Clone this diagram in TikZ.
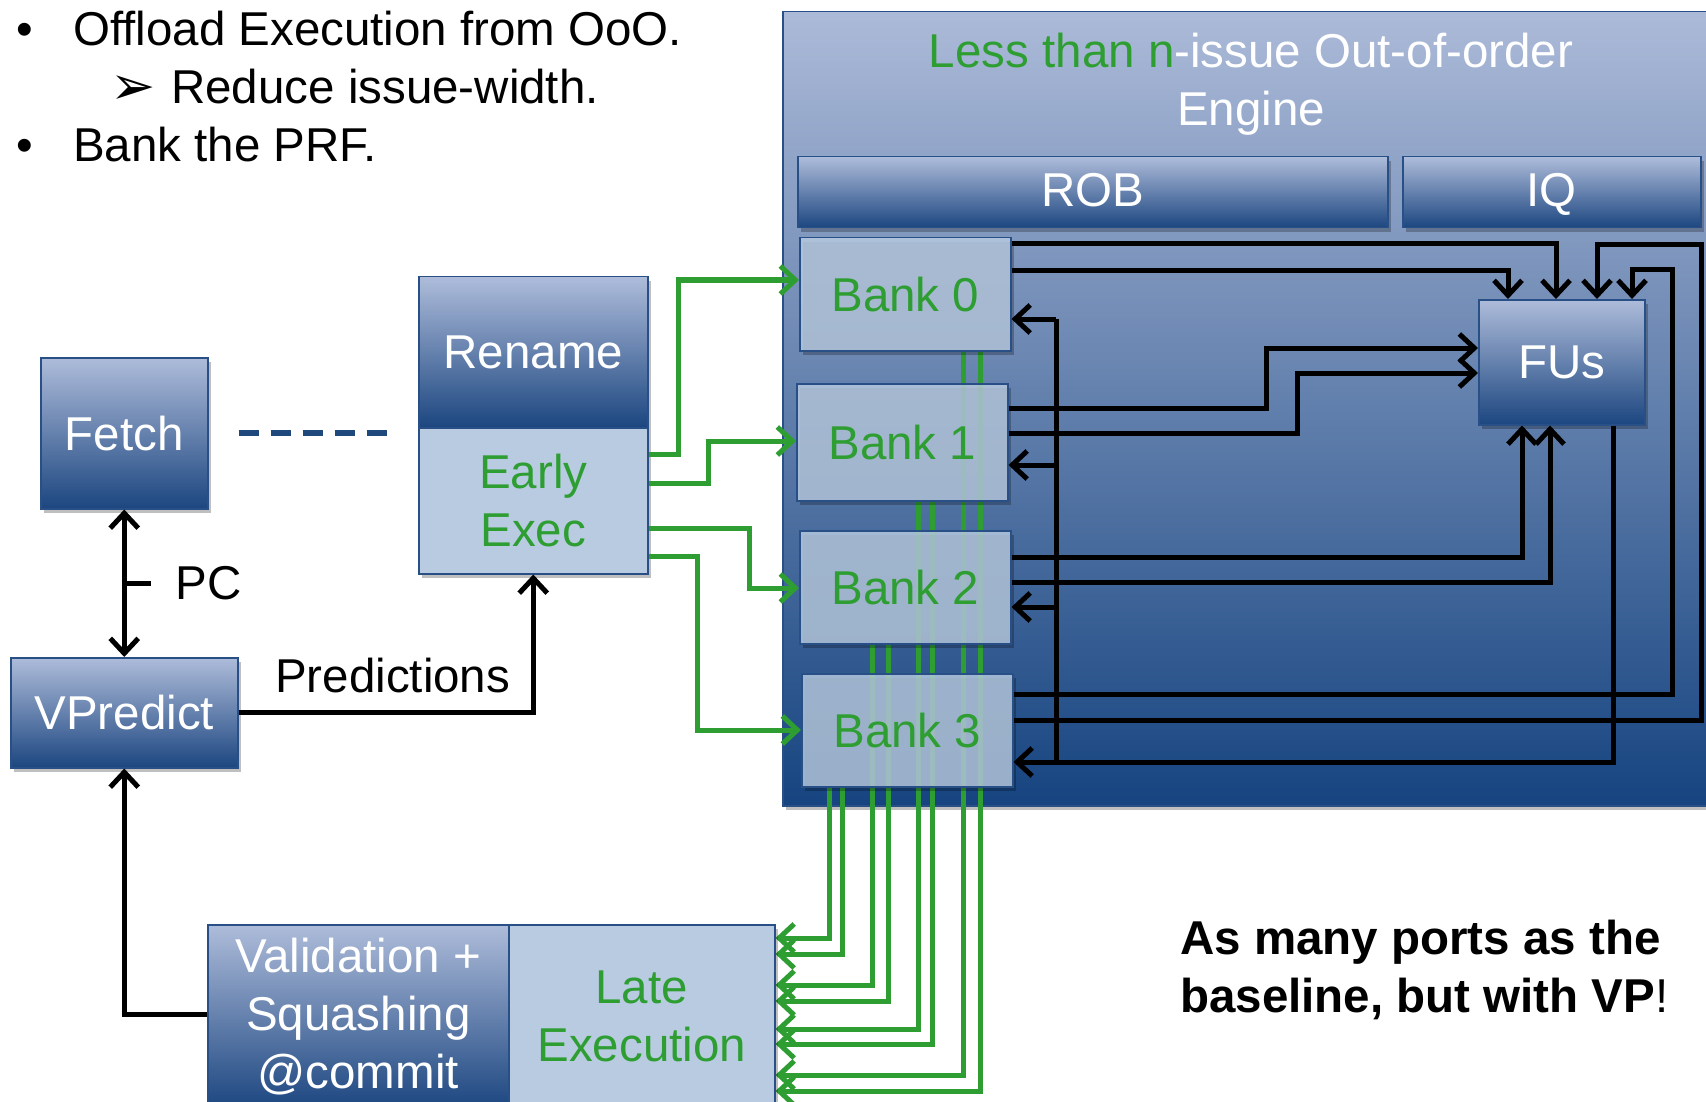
\documentclass[tikz,border=0pt]{standalone}
\usepackage{fontspec}
\setmainfont{Liberation Sans}
\newfontfamily\symfont{DejaVu Sans}
\usetikzlibrary{arrows.meta,shadows,calc}

\definecolor{vpgreen}{RGB}{46,158,50}
\definecolor{boxtop}{RGB}{174,188,218}
\definecolor{boxbot}{RGB}{28,70,128}
\definecolor{boxline}{RGB}{40,80,135}
\definecolor{banklight}{RGB}{184,203,225}
\definecolor{engtop}{RGB}{172,186,216}
\definecolor{engbot}{RGB}{22,68,128}
\definecolor{dashblue}{RGB}{31,73,125}

\pgfdeclarelayer{bg}
\pgfdeclarelayer{wires}
\pgfsetlayers{bg,wires,main}

\tikzset{
  every node/.style={font=\fontsize{47.5}{58}\selectfont, inner sep=0pt},
  boxshadow/.style={drop shadow={shadow xshift=3pt, shadow yshift=-4pt, opacity=0.25, fill=black}},
  darkbox/.style={draw=boxline, line width=1.5pt, top color=boxtop, bottom color=boxbot,
    text=white, align=center, anchor=north west, boxshadow},
  lightbox/.style={draw=boxline, line width=1.5pt, fill=banklight, text=vpgreen,
    align=center, anchor=north west, boxshadow},
  bankbox/.style={lightbox, fill opacity=0.82, text opacity=1, minimum width=211pt, minimum height=113pt},
  blk/.style={line width=5pt, black},
  grn/.style={line width=5pt, vpgreen},
  tip/.style={-{Straight Barb[length=15pt, width=28pt]}},
  tips/.style={{Straight Barb[length=15pt, width=28pt]}-{Straight Barb[length=15pt, width=28pt]}},
  dashline/.style={line width=6pt, dashblue, dash pattern=on 20pt off 12pt},
}

\begin{document}
\begin{tikzpicture}[x=1pt, y=-1pt]
    \useasboundingbox (0,0) rectangle (1706,1102);
    \begin{pgfonlayer}{bg}
        \fill[white] (0,0) rectangle (1706,1102);
        % OoO engine
        \node[draw=boxline, line width=1.5pt, top color=engtop, bottom color=engbot, anchor=north west,
            minimum width=960pt, minimum height=794pt, boxshadow] (eng) at (782,11) {};
    \end{pgfonlayer}

    % bullets
    \node[anchor=base west] (bul1) at (16,46) {•};
    \node[anchor=base west] (txt1) at (73,46) {Offload Execution from OoO.};
    \node[anchor=base west, font=\fontsize{54}{60}\selectfont\symfont] (arr2) at (110,105) {➢};
    \node[anchor=base west] (txt2) at (171,104) {Reduce issue-width.};
    \node[anchor=base west] (bul3) at (16,162) {•};
    \node[anchor=base west] (txt3) at (73,162) {Bank the PRF.};

    \node[align=center, text=white] (title) at (1251,84) {\textcolor{vpgreen}{Less than n}-issue Out-of-order\\Engine};
    \node[darkbox, minimum width=590pt, minimum height=71pt, text height=34pt, text depth=6pt] (rob) at (797,156) {ROB};
    \node[darkbox, minimum width=298pt, minimum height=71pt, text height=34pt, text depth=6pt] (iq) at (1402,156) {IQ};
    \node[darkbox, minimum width=166pt, minimum height=125pt] (fu) at (1478,299) {FUs};

    % banks
    \node[bankbox] (b0) at (799,237) {Bank 0};
    \node[bankbox, minimum height=117pt] (b1) at (796,383) {Bank 1};
    \node[bankbox] (b2) at (799,530) {Bank 2};
    \node[bankbox] (b3) at (801,673) {Bank 3};

    % front end
    \node[darkbox, minimum width=167pt, minimum height=151pt] (fetch) at (40,357) {Fetch};
    \node[darkbox, minimum width=227pt, minimum height=110pt] (vp) at (10,657) {VPredict};
    \node[darkbox, minimum width=229pt, minimum height=151pt] (ren) at (418,276) {Rename};
    \node[lightbox, minimum width=229pt, minimum height=146pt] (ee) at (418,427) {Early\\Exec};
    \node[darkbox, minimum width=301pt, minimum height=184pt] (val) at (207,924) {Validation +\\Squashing\\@commit};
    \node[lightbox, minimum width=266pt, minimum height=184pt] (le) at (508,924) {Late\\Execution};

    \node[anchor=west, align=left, font=\fontsize{47.5}{58}\selectfont\bfseries] (note) at (1180,970)
        {As many ports as the\\baseline, but with VP{\mdseries !}};

    % read ports to late execution
    \begin{pgfonlayer}{wires}
        \foreach \b/\x/\y in {b0/963/1075, b0/980/1091, b1/918/1029, b1/932/1044,
                              b2/872/985, b2/888/1001, b3/829/938, b3/842/954}
            \draw[grn, tip] (\b.south -| \x,0) |- (le.east |- 0,\y);
    \end{pgfonlayer}

    % early exec writes
    \draw[grn, tip] (ee.east |- 0,454) -| (678,280) -- (b0.west |- 0,280);
    \draw[grn, tip] (ee.east |- 0,483) -| (708,441) -- (b1.west |- 0,441);
    \draw[grn, tip] (ee.east |- 0,528) -| (749,588) -- (b2.west |- 0,588);
    \draw[grn, tip] (ee.east |- 0,556) -| (697,730) -- (b3.west |- 0,730);

    % banks to FUs
    \draw[blk, tip] (b0.east |- 0,244) -| (fu.north -| 1556,0);
    \draw[blk, tip] (b0.east |- 0,271) -| (fu.north -| 1508,0);
    \draw[blk, tip] (b1.east |- 0,408) -| (1266,348) -- (fu.west |- 0,348);
    \draw[blk, tip] (b1.east |- 0,433) -| (1297,373) -- (fu.west |- 0,373);
    \draw[blk, tip] (b2.east |- 0,557) -| (fu.south -| 1522,0);
    \draw[blk, tip] (b2.east |- 0,582) -| (fu.south -| 1550,0);
    \draw[blk, tip] (b3.east |- 0,694) -| (1672,270) -| (fu.north -| 1632,0);
    \draw[blk, tip] (b3.east |- 0,720) -| (1701,245) -| (fu.north -| 1597,0);

    % FUs write back
    \draw[blk, tip] (fu.south -| 1613,0) |- (b3.east |- 0,762);
    \coordinate (bus) at (1056,762);
    \draw[blk] (bus) -- (bus |- 0,319);
    \foreach \b/\y in {b0/319, b1/465, b2/607}
        \draw[blk, tip] (bus |- 0,\y) -- (\b.east |- 0,\y);

    % front end links
    \draw[dashline] ([xshift=30pt]fetch.east) -- ([xshift=-28pt]fetch.east -| ren.west);
    \draw[blk, tips] (fetch.south) -- (vp.north);
    \coordinate (pcmid) at ($(fetch.south)!0.5!(vp.north)$);
    \draw[blk] (pcmid) -- ++(27,0) node[anchor=west, xshift=22pt] (pclbl) {PC};
    \draw[blk, tip] (vp.east) -| (ee.south);
    \node[anchor=base west] (predlbl) at (275,692) {Predictions};
    \draw[blk, tip] (val.west |- 0,1014) -| (vp.south);
\end{tikzpicture}
\end{document}
